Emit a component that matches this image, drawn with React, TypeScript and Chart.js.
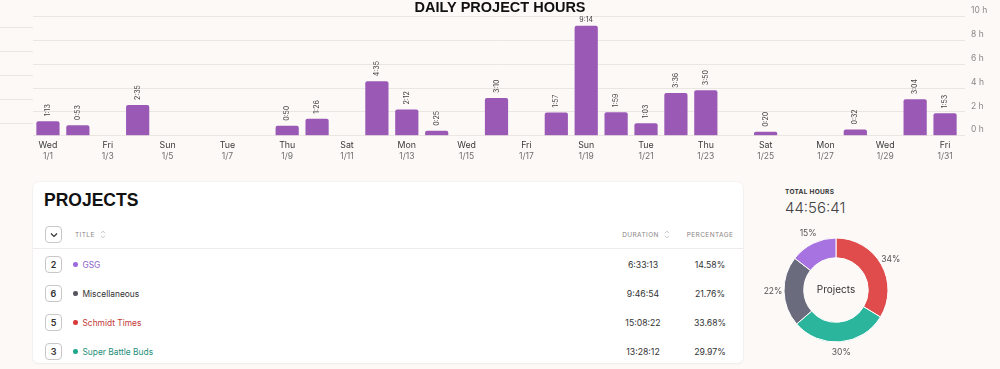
import React, { useEffect, useRef } from 'react';
import { Chart, registerables } from 'chart.js';

Chart.register(...registerables);

// ---------- data ----------
const dayNames = [
  'Wed', 'Thu', 'Fri', 'Sat', 'Sun', 'Mon', 'Tue',
  'Wed', 'Thu', 'Fri', 'Sat', 'Sun', 'Mon', 'Tue',
  'Wed', 'Thu', 'Fri', 'Sat', 'Sun', 'Mon', 'Tue',
  'Wed', 'Thu', 'Fri', 'Sat', 'Sun', 'Mon', 'Tue',
  'Wed', 'Thu', 'Fri',
];
const dateLabels = [
  '1/1', '1/2', '1/3', '1/4', '1/5', '1/6', '1/7', '1/8', '1/9', '1/10',
  '1/11', '1/12', '1/13', '1/14', '1/15', '1/16', '1/17', '1/18', '1/19', '1/20',
  '1/21', '1/22', '1/23', '1/24', '1/25', '1/26', '1/27', '1/28', '1/29', '1/30',
  '1/31',
];
// minutes worked per day
const dailyMinutes = [
  73, 53, 0, 155, 0, 0, 0, 0, 50, 86,
  0, 275, 132, 25, 0, 190, 0, 117, 554, 119,
  63, 216, 230, 0, 20, 0, 0, 32, 0, 184,
  113,
];
const yTicks = [0, 2, 4, 6, 8, 10];

const projectIds = [2, 6, 5, 3];
const projectNames = ['GSG', 'Miscellaneous', 'Schmidt Times', 'Super Battle Buds'];
const projectDurations = ['6:33:13', '9:46:54', '15:08:22', '13:28:12'];
const projectColors = ['#a673e0', '#6b6b7e', '#e04b4b', '#2bb59c'];
const projectDotColors = ['#9b6ade', '#55555f', '#d83a3a', '#1fa88e'];
const projectTextColors = ['#8a5cc9', '#333333', '#c23838', '#1f8f7a'];

// ---------- helpers ----------
const BG = '#fcf9f7';
const GRID = '#ece6e2';
const LEFT_AXIS_SHIFT = 0.93; // secondary left guide lines sit slightly below the main grid
const toSeconds = (s: string) => {
  const [h, m, sec] = s.split(':').map(Number);
  return h * 3600 + m * 60 + sec;
};
const projectSeconds = projectDurations.map(toSeconds);
const totalSeconds = projectSeconds.reduce((a, b) => a + b, 0);
const projectPct = projectSeconds.map((s) => (s / totalSeconds) * 100);
const pad2 = (n: number) => String(n).padStart(2, '0');
const totalLabel = `${Math.floor(totalSeconds / 3600)}:${pad2(Math.floor((totalSeconds % 3600) / 60))}:${pad2(totalSeconds % 60)}`;
const fmtMinutes = (m: number) => `${Math.floor(m / 60)}:${pad2(m % 60)}`;

// doughnut order: descending by duration
const donutOrder = projectSeconds
  .map((s, i) => i)
  .sort((a, b) => projectSeconds[b] - projectSeconds[a]);

const barLabelPlugin = {
  id: 'barLabels',
  afterDatasetsDraw(chart: any) {
    const { ctx, chartArea } = chart;
    const meta = chart.getDatasetMeta(0);
    ctx.save();
    ctx.font = '7px Inter';
    ctx.fillStyle = '#444';
    meta.data.forEach((bar: any, i: number) => {
      const m = dailyMinutes[i];
      if (!m) return;
      const text = fmtMinutes(m);
      const w = ctx.measureText(text).width;
      const x = bar.x;
      const y = bar.y;
      if (y - 5 - w < chartArea.top) {
        ctx.textAlign = 'center';
        ctx.textBaseline = 'bottom';
        ctx.fillText(text, x, y - 2);
      } else {
        ctx.save();
        ctx.translate(x, y - 5);
        ctx.rotate(-Math.PI / 2);
        ctx.textAlign = 'left';
        ctx.textBaseline = 'middle';
        ctx.fillText(text, 0, 0);
        ctx.restore();
      }
    });
    ctx.restore();
  },
};

const donutLabelPlugin = {
  id: 'donutLabels',
  afterDatasetsDraw(chart: any) {
    const { ctx } = chart;
    const meta = chart.getDatasetMeta(0);
    ctx.save();
    ctx.textAlign = 'center';
    ctx.textBaseline = 'middle';
    ctx.font = '8.5px Inter';
    ctx.fillStyle = '#555';
    meta.data.forEach((arc: any, i: number) => {
      const p = arc.getProps(['x', 'y', 'startAngle', 'endAngle', 'outerRadius'], true);
      const mid = (p.startAngle + p.endAngle) / 2;
      const r = p.outerRadius + 11;
      const pct = projectPct[donutOrder[i]];
      ctx.fillText(`${Math.round(pct)}%`, p.x + Math.cos(mid) * r, p.y + Math.sin(mid) * r);
    });
    const first = meta.data[0];
    if (first) {
      ctx.font = '10px Inter';
      ctx.fillStyle = '#333';
      ctx.fillText('Projects', first.x, first.y);
    }
    ctx.restore();
  },
};

const SortIcon = () => (
  <svg width="6" height="9" viewBox="0 0 6 9" style={{ marginLeft: 5 }}>
    <path d="M1 3.2 L3 1.2 L5 3.2" fill="none" stroke="#bbb" strokeWidth="0.9" />
    <path d="M1 5.8 L3 7.8 L5 5.8" fill="none" stroke="#bbb" strokeWidth="0.9" />
  </svg>
);

const boxStyle: React.CSSProperties = {
  position: 'absolute',
  left: 12,
  width: 15,
  height: 15,
  border: '1px solid #c9c6c6',
  borderRadius: 4,
  display: 'flex',
  alignItems: 'center',
  justifyContent: 'center',
  background: '#fff',
};

const headStyle: React.CSSProperties = {
  fontSize: 6.5,
  letterSpacing: 0.4,
  color: '#8a8585',
  display: 'flex',
  alignItems: 'center',
};

const ROW_FONT = 8.4;

export default function App() {
  const barRef = useRef<HTMLCanvasElement>(null);
  const donutRef = useRef<HTMLCanvasElement>(null);

  useEffect(() => {
    document.body.style.margin = '0';
    document.body.style.background = BG;
    Chart.defaults.font.family = 'Inter, sans-serif';

    const bar = new Chart(barRef.current as HTMLCanvasElement, {
      type: 'bar',
      data: {
        labels: dayNames,
        datasets: [
          {
            data: dailyMinutes.map((m) => m / 60),
            backgroundColor: '#9b59b6',
            borderRadius: 2,
            borderSkipped: 'start',
            categoryPercentage: 0.8,
            barPercentage: 0.97,
          },
        ],
      },
      options: {
        animation: false,
        responsive: true,
        maintainAspectRatio: false,
        layout: { padding: { left: 0, right: 0, top: 0, bottom: 8 } },
        plugins: {
          legend: { display: false },
          tooltip: { enabled: false },
          title: {
            display: true,
            text: 'DAILY PROJECT HOURS',
            color: '#111',
            font: { family: '"Liberation Sans", Arial, sans-serif', size: 14.5, weight: 'bold', lineHeight: 1.15 },
            padding: { top: 0, bottom: 0 },
          },
        },
        scales: {
          x: {
            type: 'category',
            position: 'bottom',
            weight: 0,
            offset: true,
            grid: { display: false, drawTicks: false },
            border: { display: false },
            afterFit: (axis: any) => {
              axis.height = 15;
            },
            ticks: {
              autoSkip: false,
              maxRotation: 0,
              padding: 4.5,
              color: '#3a3a3a',
              font: { size: 8.8 },
              callback: (_v: any, i: number) => (i % 2 === 0 ? dayNames[i] : ''),
            },
          },
          x2: {
            type: 'category',
            position: 'bottom',
            weight: 1,
            labels: dateLabels,
            offset: true,
            grid: { display: false, drawTicks: false },
            border: { display: false },
            ticks: {
              autoSkip: false,
              maxRotation: 0,
              padding: 0.5,
              color: '#707070',
              font: { size: 8.5 },
              callback: (_v: any, i: number) => (i % 2 === 0 ? dateLabels[i] : ''),
            },
          },
          y: {
            position: 'right',
            min: 0,
            max: 10,
            afterBuildTicks: (axis: any) => {
              axis.ticks = yTicks.map((v) => ({ value: v }));
            },
            afterFit: (axis: any) => {
              axis.width = 40;
            },
            grid: { color: GRID, tickLength: 5, drawTicks: true },
            border: { display: false },
            ticks: {
              padding: 6,
              labelOffset: -6,
              color: '#888',
              font: { size: 8.5 },
              callback: (v: any) => `${v} h`,
            },
          },
          yL: {
            position: 'left',
            min: LEFT_AXIS_SHIFT,
            max: 10 + LEFT_AXIS_SHIFT,
            afterBuildTicks: (axis: any) => {
              axis.ticks = yTicks
                .filter((v) => v >= LEFT_AXIS_SHIFT)
                .map((v) => ({ value: v }));
            },
            afterFit: (axis: any) => {
              axis.width = 33;
            },
            grid: { color: GRID, drawOnChartArea: false, drawTicks: true, tickLength: 33 },
            border: { display: false },
            ticks: { display: false },
          },
        },
      } as any,
      plugins: [barLabelPlugin],
    });

    const donut = new Chart(donutRef.current as HTMLCanvasElement, {
      type: 'doughnut',
      data: {
        labels: donutOrder.map((i) => projectNames[i]),
        datasets: [
          {
            data: donutOrder.map((i) => projectSeconds[i]),
            backgroundColor: donutOrder.map((i) => projectColors[i]),
            borderColor: '#ffffff',
            borderWidth: 1,
          },
        ],
      },
      options: {
        animation: false,
        responsive: true,
        maintainAspectRatio: false,
        cutout: '62%',
        layout: { padding: 22.5 },
        plugins: { legend: { display: false }, tooltip: { enabled: false } },
      } as any,
      plugins: [donutLabelPlugin],
    });

    return () => {
      bar.destroy();
      donut.destroy();
    };
  }, []);

  return (
    <div
      style={{
        position: 'relative',
        width: 1000,
        height: 369,
        background: BG,
        fontFamily: 'Inter, sans-serif',
        overflow: 'hidden',
      }}
    >
      <div style={{ position: 'absolute', left: 0, top: 0, width: 1000, height: 170 }}>
        <canvas ref={barRef} style={{ display: 'block' }} />
      </div>

      {/* Projects card */}
      <div
        style={{
          position: 'absolute',
          left: 33,
          top: 182,
          width: 710,
          height: 181,
          background: '#fff',
          borderRadius: 6,
          boxShadow: '0 0 0 1px rgba(0,0,0,0.025), 0 1px 3px rgba(0,0,0,0.04)',
        }}
      >
        <div
          style={{
            position: 'absolute',
            left: 11,
            top: 10,
            fontFamily: '"Liberation Sans", Arial, sans-serif',
            fontWeight: 'bold',
            fontSize: 17.5,
            lineHeight: 1,
            color: '#111',
          }}
        >
          PROJECTS
        </div>

        {/* header */}
        <div style={{ ...boxStyle, top: 44 }}>
          <svg width="8" height="6" viewBox="0 0 8 6">
            <path d="M1 1.5 L4 4.5 L7 1.5" fill="none" stroke="#333" strokeWidth="1.2" />
          </svg>
        </div>
        <div style={{ position: 'absolute', left: 42, top: 44, height: 17, ...headStyle }}>
          TITLE
          <SortIcon />
        </div>
        <div
          style={{
            position: 'absolute',
            left: 563,
            width: 100,
            top: 44,
            height: 17,
            ...headStyle,
            justifyContent: 'center',
          }}
        >
          DURATION
          <SortIcon />
        </div>
        <div
          style={{
            position: 'absolute',
            left: 627,
            width: 100,
            top: 44,
            height: 17,
            ...headStyle,
            justifyContent: 'center',
          }}
        >
          PERCENTAGE
        </div>
        <div style={{ position: 'absolute', left: 0, right: 0, top: 66, height: 1, background: '#efebea' }} />

        {projectNames.map((name, i) => {
          const top = 68 + i * 29;
          return (
            <div key={name} style={{ position: 'absolute', left: 0, right: 0, top, height: 29 }}>
              <div
                style={{
                  ...boxStyle,
                  top: 6,
                  fontSize: 9,
                  fontWeight: 600,
                  color: '#333',
                }}
              >
                {projectIds[i]}
              </div>
              <div
                style={{
                  position: 'absolute',
                  left: 40,
                  top: 0,
                  height: 29,
                  display: 'flex',
                  alignItems: 'center',
                  fontSize: ROW_FONT,
                  color: projectTextColors[i],
                }}
              >
                <span
                  style={{
                    display: 'inline-block',
                    width: 4.5,
                    height: 4.5,
                    borderRadius: '50%',
                    background: projectDotColors[i],
                    marginRight: 5,
                  }}
                />
                {name}
              </div>
              <div
                style={{
                  position: 'absolute',
                  left: 560,
                  width: 100,
                  top: 0,
                  height: 29,
                  display: 'flex',
                  alignItems: 'center',
                  justifyContent: 'center',
                  fontSize: 8.7,
                  color: '#333',
                }}
              >
                {projectDurations[i]}
              </div>
              <div
                style={{
                  position: 'absolute',
                  left: 627,
                  width: 100,
                  top: 0,
                  height: 29,
                  display: 'flex',
                  alignItems: 'center',
                  justifyContent: 'center',
                  fontSize: 8.7,
                  color: '#333',
                }}
              >
                {projectPct[i].toFixed(2)}%
              </div>
            </div>
          );
        })}
      </div>

      {/* Total hours */}
      <div
        style={{
          position: 'absolute',
          left: 785,
          top: 188,
          fontSize: 6.5,
          fontWeight: 700,
          letterSpacing: 0.3,
          color: '#333',
          lineHeight: '8px',
        }}
      >
        TOTAL HOURS
      </div>
      <div
        style={{
          position: 'absolute',
          left: 785,
          top: 199,
          fontSize: 15,
          fontWeight: 300,
          color: '#444',
          lineHeight: '18px',
        }}
      >
        {totalLabel}
      </div>

      <div style={{ position: 'absolute', left: 761, top: 215, width: 150, height: 150 }}>
        <canvas ref={donutRef} style={{ display: 'block' }} />
      </div>
    </div>
  );
}
